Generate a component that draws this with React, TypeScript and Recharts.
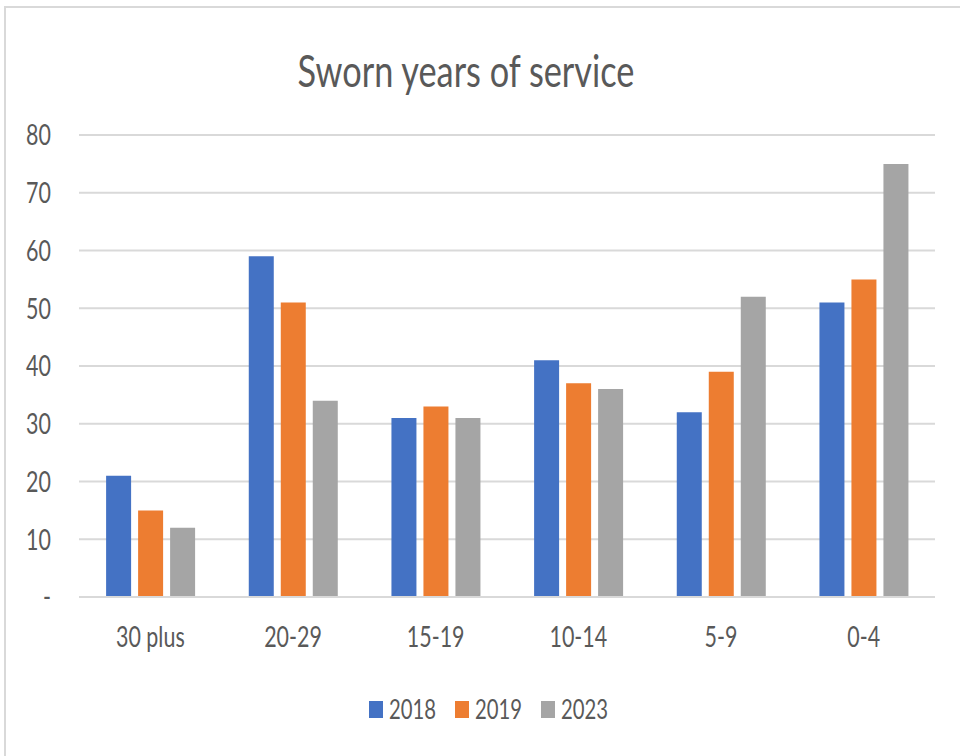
import { BarChart, Bar, XAxis, YAxis, CartesianGrid } from "recharts";

const categories = ["30 plus", "20-29", "15-19", "10-14", "5-9", "0-4"];
const values2018 = [21, 59, 31, 41, 32, 51];
const values2019 = [15, 51, 33, 37, 39, 55];
const values2023 = [12, 34, 31, 36, 52, 75];
const yTicks = [0, 10, 20, 30, 40, 50, 60, 70, 80];

const series = [
  { key: "y2018", name: "2018", color: "#4472C4" },
  { key: "y2019", name: "2019", color: "#ED7D31" },
  { key: "y2023", name: "2023", color: "#A5A5A5" },
];

const data = categories.map((c, i) => ({
  category: c,
  y2018: values2018[i],
  y2019: values2019[i],
  y2023: values2023[i],
}));

const FONT = "Lato, 'Open Sans', sans-serif";
const TEXT = "#595959";
const SQUEEZE = 0.74;

// the original text is narrow (Calibri-like), so squeeze Lato horizontally
function SqueezedTick(props: any) {
  const { x, y, payload, textAnchor, dy, fmt } = props;
  const label = fmt ? fmt(payload.value) : payload.value;
  return (
    <g transform={`translate(${x},${y}) scale(${SQUEEZE},1)`}>
      <text x={0} y={0} dy={dy} textAnchor={textAnchor} fill={TEXT} fontSize={29} fontFamily={FONT}>
        {label}
      </text>
    </g>
  );
}

function LegendBlock() {
  return (
    <div
      style={{
        position: "absolute",
        top: 694,
        left: 369,
        display: "flex",
        alignItems: "center",
        gap: 19,
        fontFamily: FONT,
        fontSize: 26,
        color: TEXT,
        lineHeight: "30px",
      }}
    >
      {series.map((s) => (
        <div key={s.key} style={{ display: "flex", alignItems: "center", gap: 6 }}>
          <span style={{ width: 14, height: 17, background: s.color, display: "inline-block" }} />
          <span style={{ display: "inline-block", width: 47, whiteSpace: "nowrap" }}>
            <span style={{ display: "inline-block", transform: "scaleX(0.78)", transformOrigin: "left center" }}>
              {s.name}
            </span>
          </span>
        </div>
      ))}
    </div>
  );
}

export default function App() {
  return (
    <div style={{ position: "absolute", left: 0, top: 0, width: 960, height: 756, overflow: "hidden", background: "#fff" }}>
      <div style={{ position: "absolute", left: 4, top: 6, width: 1000, height: 800, border: "2px solid #d9d9d9" }} />
      <svg width={960} height={110} style={{ position: "absolute", left: 0, top: 0 }}>
        <g transform={`translate(466,87) scale(0.78,1)`}>
          <text x={0} y={0} textAnchor="middle" fill={TEXT} fontSize={44} fontFamily={FONT}>
            Sworn years of service
          </text>
        </g>
      </svg>
      <div style={{ position: "absolute", left: 0, top: 0 }}>
        <BarChart
          width={960}
          height={756}
          data={data}
          margin={{ top: 135, right: 25, left: 0, bottom: 119 }}
          barCategoryGap="19%"
          barGap={7}
        >
          <CartesianGrid vertical={false} stroke="#d9d9d9" strokeWidth={2} />
          <XAxis
            dataKey="category"
            height={40}
            tickLine={false}
            axisLine={{ stroke: "#d9d9d9", strokeWidth: 2 }}
            tick={<SqueezedTick dy="0.71em" />}
            tickSize={0}
            tickMargin={29}
          />
          <YAxis
            width={79}
            domain={[0, 80]}
            ticks={yTicks}
            interval={0}
            axisLine={false}
            tickLine={false}
            tickSize={0}
            tickMargin={28}
            tick={<SqueezedTick dy="0.355em" fmt={(v: number) => (v === 0 ? "-" : String(v))} />}
          />
          {series.map((s) => (
            <Bar key={s.key} dataKey={s.key} name={s.name} fill={s.color} isAnimationActive={false} />
          ))}
        </BarChart>
      </div>
      <LegendBlock />
    </div>
  );
}
